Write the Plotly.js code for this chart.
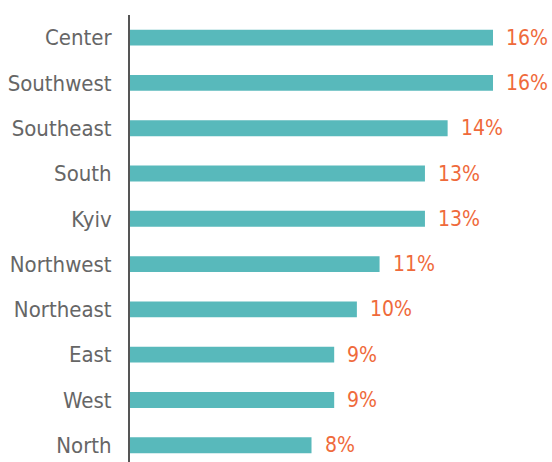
<!DOCTYPE html>
<html>
<head>
<meta charset="utf-8">
<script src="https://cdn.plot.ly/plotly-3.0.1.min.js"></script>
<style>html,body{margin:0;padding:0;background:#fff;}#chart{width:552px;height:462px;}</style>
</head>
<body>
<div id="chart"></div>
<script>
var regions = ["Center","Southwest","Southeast","South","Kyiv","Northwest","Northeast","East","West","North"];
var shares = [16,16,14,13,13,11,10,9,9,8];
var valueLabels = shares.map(function(v){return v + "%";});

var FONT = '"DejaVu Sans Condensed","Liberation Sans Narrow",sans-serif';

var trace = {
  type: "bar",
  orientation: "h",
  y: regions,
  x: shares,
  width: 0.35,
  marker: {color: "#58b9bb"},
  hoverinfo: "skip"
};

var annotations = regions.map(function(r, i){
  return {
    x: shares[i], y: r, xref: "x", yref: "y",
    text: valueLabels[i], showarrow: false,
    xanchor: "left", yanchor: "middle", xshift: 11,
    font: {family: FONT, size: 21, color: "#ef6a3b"}
  };
});

var layout = {
  width: 552, height: 462,
  margin: {l: 130, r: 0, t: 15, b: 0, pad: 0},
  paper_bgcolor: "#fff", plot_bgcolor: "#fff",
  showlegend: false,
  xaxis: {range: [0, 18.6], visible: false, fixedrange: true},
  yaxis: {
    type: "category",
    range: [9.37, -0.5],
    showline: true, linecolor: "#555", linewidth: 2,
    showgrid: false, zeroline: false,
    ticks: "", ticklabelstandoff: 12,
    tickfont: {family: FONT, size: 22, color: "#666"},
    fixedrange: true
  },
  annotations: annotations
};

Plotly.newPlot("chart", [trace], layout, {displayModeBar: false, staticPlot: true});
</script>
</body>
</html>
